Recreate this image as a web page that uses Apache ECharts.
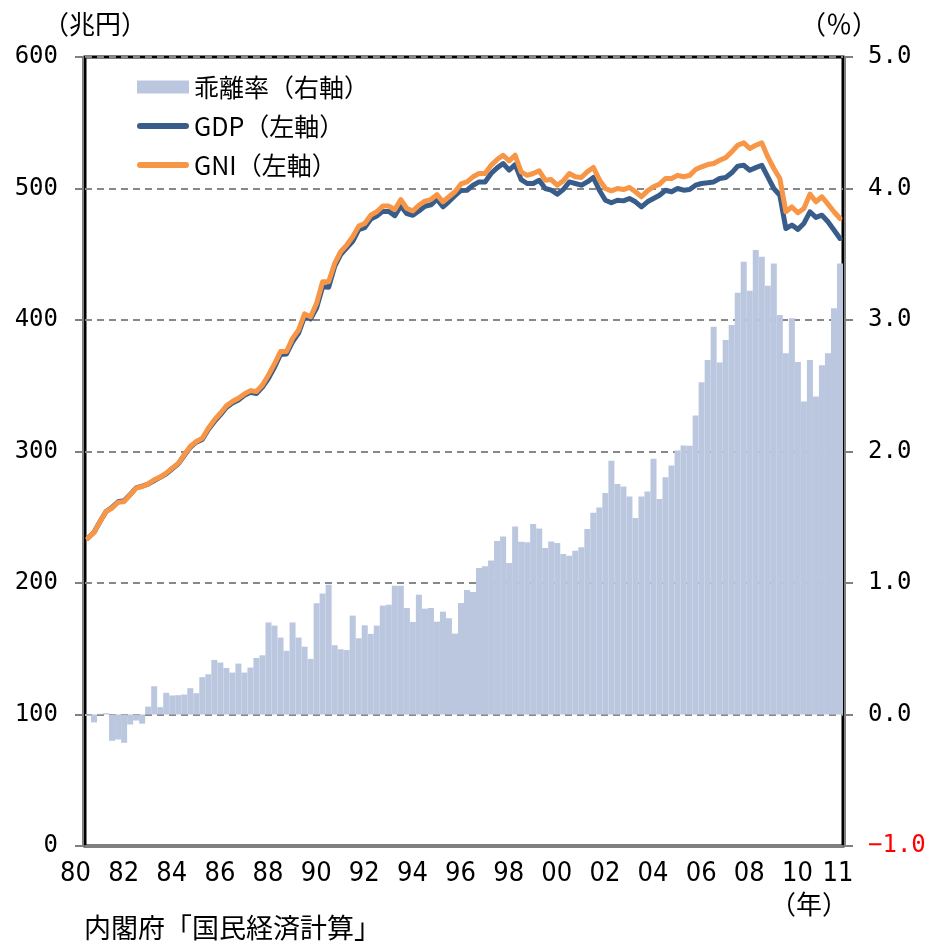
<!DOCTYPE html>
<html><head><meta charset="utf-8">
<script src="https://cdn.jsdelivr.net/npm/echarts@6/dist/echarts.min.js"></script>
<style>html,body{margin:0;padding:0;background:#fff}#c{width:935px;height:946px}</style>
</head><body><div id="c"></div>
<script>
// quarters 1980Q1 .. 2011Q2
const years = [];
for (let y = 1980; y <= 2011; y++) years.push(y);
const categories = [];
years.forEach(y => { for (let q = 1; q <= 4; q++) { if (y === 2011 && q > 2) break; categories.push(y + 'Q' + q); } });

const xTickLabels = ['80','82','84','86','88','90','92','94','96','98','00','02','04','06','08','10','11'];

// 乖離率 (%), right axis
const rate = [-0.01,-0.06,0.005,0.01,-0.20,-0.19,-0.215,-0.076,-0.046,-0.07,
0.06,0.215,0.056,0.165,0.145,0.147,0.152,0.20,0.162,0.284,
0.306,0.415,0.395,0.354,0.319,0.387,0.319,0.357,0.43,0.45,
0.70,0.676,0.585,0.484,0.70,0.585,0.516,0.423,0.846,0.92,
0.987,0.527,0.496,0.49,0.752,0.58,0.678,0.613,0.676,0.828,
0.835,0.98,0.98,0.81,0.704,0.911,0.805,0.81,0.706,0.782,
0.732,0.615,0.848,0.947,0.932,1.114,1.127,1.172,1.32,1.354,
1.152,1.43,1.314,1.309,1.448,1.415,1.266,1.316,1.304,1.22,
1.208,1.246,1.271,1.41,1.535,1.575,1.684,1.929,1.752,1.734,
1.658,1.494,1.658,1.696,1.944,1.638,1.805,1.894,2.008,2.046,
2.043,2.273,2.527,2.696,2.949,2.676,2.848,2.962,3.208,3.443,
3.223,3.532,3.481,3.261,3.43,3.038,2.747,3.013,2.681,2.38,
2.696,2.418,2.656,2.747,3.089,3.43];

// GDP (兆円), left axis
const gdp = [234.2,238.6,246.8,254.4,257.5,261.8,262.6,267.2,272.3,273.6,
275.2,277.9,280.3,283.0,286.9,290.6,297.0,303.2,307.1,309.2,
316.7,322.7,327.8,333.5,336.9,339.2,342.7,345.1,344.1,349.0,
355.7,364.1,373.8,374.2,383.3,390.1,402.5,400.8,409.2,425.2,
424.9,440.7,449.7,454.8,459.8,468.7,470.2,476.8,479.1,482.6,
482.6,479.3,486.8,480.9,479.6,482.9,486.5,487.6,491.9,486.1,
490.1,494.5,498.5,498.7,502.5,505.0,505.0,511.4,515.7,519.0,
514.0,518.2,506.8,503.8,503.8,506.3,500.0,498.7,495.7,499.2,
505.0,503.8,502.5,505.0,508.4,498.7,491.1,489.1,491.1,490.6,
492.4,489.9,486.0,489.9,492.4,494.9,498.7,497.5,500.0,498.7,
499.2,502.5,503.8,504.3,505.0,507.6,508.4,511.9,517.0,517.7,
513.9,515.9,517.7,508.9,500.0,494.9,469.6,472.2,468.9,473.4,
482.3,478.0,479.7,474.7,468.4,462.0];

// GNI (兆円), left axis
const gni = [234.2,238.5,246.8,254.4,257.0,261.3,262.0,267.0,272.2,273.4,
275.4,278.5,280.5,283.5,287.3,291.0,297.5,303.8,307.6,310.1,
317.7,324.0,329.1,334.7,338.0,340.5,343.8,346.3,345.6,350.6,
358.2,366.6,376.0,376.0,386.0,392.4,404.6,402.5,412.7,429.1,
429.1,443.0,451.9,457.0,463.3,471.4,473.4,479.7,482.3,486.6,
486.6,484.0,491.6,484.8,483.0,487.3,490.4,491.6,495.4,489.9,
493.7,497.5,503.5,505.0,508.9,511.4,511.4,517.7,522.0,525.3,
521.0,525.3,512.7,510.0,511.4,513.4,506.3,506.8,502.5,505.8,
511.4,508.9,508.4,512.7,516.0,506.8,500.0,498.2,500.0,499.2,
500.8,497.5,493.7,498.2,501.3,503.3,507.6,507.6,510.0,508.9,
510.0,514.4,516.5,518.2,519.0,521.5,523.5,527.8,532.9,534.7,
530.4,532.9,534.7,524.0,515.2,507.6,482.3,486.0,481.5,484.8,
495.7,489.9,493.7,488.1,482.3,477.2];

const CJK = "'Noto Sans CJK JP', sans-serif";
const NUM = "'DejaVu Sans Mono', monospace";
const NARROW = "'Liberation Sans Narrow', 'DejaVu Sans Condensed', sans-serif";
const LINE_ICON = 'path://M3,0 L49,0 A3,3 0 0 1 49,6 L3,6 A3,3 0 0 1 3,0 Z';

function labelText(cat) { return cat.slice(2, 4); }
function showLabel(idx) {
  const c = categories[idx];
  const yy = labelText(c);
  if (c === '2011Q1') return xTickLabels.indexOf('11') >= 0;
  return c.endsWith('Q1') && (parseInt(c.slice(0, 4)) % 2 === 0) && xTickLabels.indexOf(yy) >= 0;
}

const chart = echarts.init(document.getElementById('c'), null, {renderer: 'canvas'});
chart.setOption({
  animation: false,
  backgroundColor: '#fff',
  grid: {left: 85, right: 92, top: 57, bottom: 100, show: true, borderColor: '#000', borderWidth: 3, containLabel: false},
  legend: {
    orient: 'vertical', left: 137, top: 74, padding: 0, itemWidth: 52, itemHeight: 13, itemGap: 13,
    symbolKeepAspect: true,
    textStyle: {fontFamily: CJK, fontSize: 25, color: '#000', lineHeight: 26},
    data: [
      {name: '乖離率（右軸）', icon: 'rect'},
      {name: 'GDP（左軸）', icon: LINE_ICON},
      {name: 'GNI（左軸）', icon: LINE_ICON}
    ]
  },
  xAxis: {
    type: 'category', data: categories, boundaryGap: true, offset: 2,
    axisLine: {show: true, lineStyle: {color: '#808080', width: 2}},
    axisTick: {show: false},
    axisLabel: {
      interval: (i) => showLabel(i),
      margin: 12,
      formatter: (v) => v === '2011Q1' ? '{r|' + labelText(v) + '}' : '{l|' + labelText(v) + '}',
      rich: {
        l: {fontFamily: NARROW, fontSize: 27, color: '#000', padding: [0, 25, 0, 0]},
        r: {fontFamily: NARROW, fontSize: 27, color: '#000', padding: [0, 0, 0, 8]}
      }
    },
    splitLine: {show: false}
  },
  yAxis: [
    {
      type: 'value', min: 0, max: 600, interval: 100, position: 'left', offset: 2,
      axisLine: {show: true, lineStyle: {color: '#808080', width: 2}},
      axisTick: {show: true, length: 8, lineStyle: {color: '#808080', width: 2}},
      axisLabel: {margin: 25, fontFamily: NUM, fontSize: 24, color: '#000'},
      splitLine: {show: true, lineStyle: {color: '#888', width: 2, type: [7, 5]}}
    },
    {
      type: 'value', min: -1, max: 5, interval: 1, position: 'right', offset: 2,
      axisLine: {show: true, lineStyle: {color: '#808080', width: 2}},
      axisTick: {show: true, length: 8, lineStyle: {color: '#808080', width: 2}},
      axisLabel: {margin: 23, fontFamily: NUM, fontSize: 24,
        color: (v) => Number(v) < 0 ? '#FF0000' : '#000',
        formatter: (v) => v < 0 ? '\u2212' + Math.abs(v).toFixed(1) : v.toFixed(1)},
      splitLine: {show: false}
    }
  ],
  series: [
    {name: '乖離率（右軸）', type: 'bar', yAxisIndex: 1, data: rate, barCategoryGap: '0%', barGap: '0%',
     itemStyle: {color: '#BBC7DF'}, z: 1},
    {name: 'GDP（左軸）', type: 'line', yAxisIndex: 0, data: gdp, symbol: 'none',
     lineStyle: {color: '#385D8A', width: 5, join: 'round', cap: 'round'}, itemStyle: {color: '#385D8A'}, z: 3},
    {name: 'GNI（左軸）', type: 'line', yAxisIndex: 0, data: gni, symbol: 'none',
     lineStyle: {color: '#F79646', width: 5, join: 'round', cap: 'round'}, itemStyle: {color: '#F79646'}, z: 4}
  ],
  graphic: [
    {type: 'text', left: 43, top: 11, style: {text: '（兆円）', font: "26px 'Noto Sans CJK JP'", fill: '#000'}},
    {type: 'text', left: 800, top: 11, style: {text: '（％）', font: "26px 'Noto Sans CJK JP'", fill: '#000'}},
    {type: 'text', left: 770, top: 891, style: {text: '（年）', font: "26px 'Noto Sans CJK JP'", fill: '#000'}},
    {type: 'text', left: 84, top: 914, style: {text: '内閣府「国民経済計算」', font: "27px 'Noto Sans CJK JP'", fill: '#000'}}
  ]
});
</script></body></html>
